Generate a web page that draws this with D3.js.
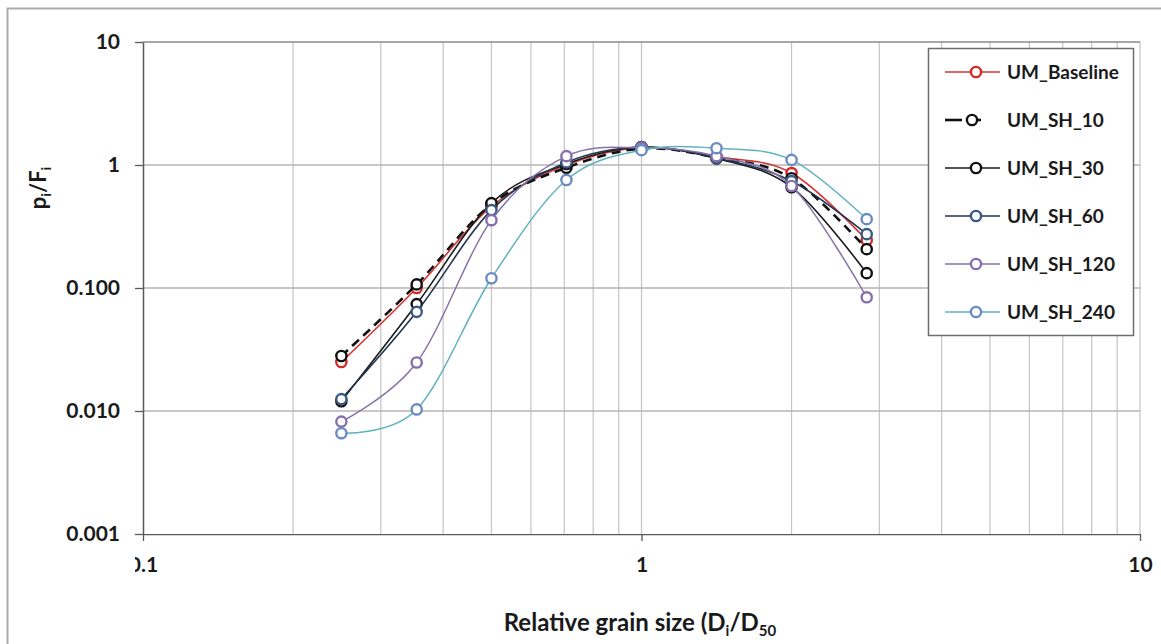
<!DOCTYPE html>
<html>
<head>
<meta charset="utf-8">
<script src="https://cdn.jsdelivr.net/npm/d3@7"></script>
<style>
  html, body { margin: 0; padding: 0; background: #fff; }
  svg { display: block; font-family: Lato, "Open Sans", sans-serif; }
</style>
</head>
<body>
<svg id="chart" width="1161" height="644"></svg>
<script>
// Relative grain size classes (Di/D50), half-phi steps
const grainSize = [0.25, 0.354, 0.5, 0.707, 1, 1.414, 2, 2.83];

// pi/Fi ratios for each run
const umBaseline = [0.025, 0.100, 0.46, 1.00, 1.38, 1.17, 0.86, 0.245];
const umSH10     = [0.028, 0.107, 0.48, 0.95, 1.36, 1.15, 0.78, 0.207];
const umSH30     = [0.012, 0.074, 0.49, 1.02, 1.40, 1.13, 0.66, 0.132];
const umSH60     = [0.0125, 0.064, 0.43, 1.05, 1.40, 1.14, 0.74, 0.274];
const umSH120    = [0.0082, 0.0248, 0.356, 1.18, 1.38, 1.18, 0.675, 0.084];
const umSH240    = [0.0066, 0.0103, 0.12, 0.755, 1.32, 1.37, 1.10, 0.363];

const seriesNames = ["UM_Baseline", "UM_SH_10", "UM_SH_30", "UM_SH_60", "UM_SH_120", "UM_SH_240"];
const seriesValues = [umBaseline, umSH10, umSH30, umSH60, umSH120, umSH240];

const xTickValues = [0.1, 1, 10];
const xTickLabels = ["0.1", "1", "10"];
const yTickValues = [0.001, 0.01, 0.1, 1, 10];
const yTickLabels = ["0.001", "0.010", "0.100", "1", "10"];

// Line / marker styling per series
const styles = [
  { line: "#d63535", marker: "#d42a2a", width: 1.6, dash: null },
  { line: "#111111", marker: "#111111", width: 2.6, dash: "9,6" },
  { line: "#1a1a1a", marker: "#111111", width: 1.6, dash: null },
  { line: "#22354f", marker: "#3b5b82", width: 1.6, dash: null },
  { line: "#8574aa", marker: "#8570ad", width: 1.5, dash: null },
  { line: "#5fb2c0", marker: "#6b8cc2", width: 1.5, dash: null }
];
const markerR = 5.1;
const markerW = 2.4;

const svg = d3.select("#chart");

// Outer frame
svg.append("path")
  .attr("d", "M7.5,644 V8.5 H1161")
  .attr("fill", "none").attr("stroke", "#ababab").attr("stroke-width", 2);

const x = d3.scaleLog().domain([0.1, 10]).range([143, 1140]);
const y = d3.scaleLog().domain([0.001, 10]).range([534, 42]);

// Vertical grid: every integer multiple inside each decade
const xGrid = [];
[0.1, 1].forEach(d => { for (let k = 1; k <= 10; k++) xGrid.push(+(d * k).toFixed(3)); });
const xGridU = Array.from(new Set(xGrid)).filter(v => v > 0.1);

svg.append("g").selectAll("line").data(xGridU).join("line")
  .attr("x1", d => x(d)).attr("x2", d => x(d))
  .attr("y1", y(10)).attr("y2", y(0.001))
  .attr("stroke", "#c4c4c4").attr("stroke-width", 1.2);

svg.append("g").selectAll("line").data(yTickValues.filter(v => v > 0.001)).join("line")
  .attr("x1", x(0.1)).attr("x2", x(10))
  .attr("y1", d => y(d)).attr("y2", d => y(d))
  .attr("stroke", d => d === 10 ? "#8a8a8a" : "#b4b4b4").attr("stroke-width", 1.3);

// Axes
const tickFont = 21;
const yAxis = d3.axisLeft(y).tickValues(yTickValues)
  .tickFormat((d, i) => yTickLabels[i]).tickSize(8).tickSizeOuter(0).tickPadding(15);
const gy = svg.append("g").attr("transform", `translate(${x(0.1)},0)`).call(yAxis);
gy.select(".domain").attr("stroke", "#5a5a5a").attr("stroke-width", 1.5);
gy.selectAll(".tick line").attr("stroke", "#5a5a5a").attr("stroke-width", 1.3);
gy.selectAll(".tick text")
  .attr("font-size", tickFont).attr("font-weight", 700).attr("fill", "#1a1a1a")
  .attr("font-family", "Lato, sans-serif");

const xAxis = d3.axisBottom(x).tickValues(xTickValues)
  .tickFormat((d, i) => xTickLabels[i]).tickSize(7).tickSizeOuter(0).tickPadding(16);
const gx = svg.append("g").attr("transform", `translate(0,${y(0.001)})`).call(xAxis);
gx.select(".domain").attr("stroke", "#5a5a5a").attr("stroke-width", 1.5);
gx.selectAll(".tick line").attr("stroke", "#5a5a5a").attr("stroke-width", 1.3);
gx.selectAll(".tick text")
  .attr("font-size", tickFont).attr("font-weight", 700).attr("fill", "#1a1a1a")
  .attr("font-family", "Lato, sans-serif");

// The first x label sits against the frame and is partly cut
svg.append("clipPath").attr("id", "xlabclip")
  .append("rect").attr("x", 135).attr("y", 0).attr("width", 1100).attr("height", 644);
gx.attr("clip-path", "url(#xlabclip)");

// Series curves
const line = d3.line()
  .x(d => x(d[0])).y(d => y(d[1]))
  .curve(d3.curveCardinal.tension(0));

const plot = svg.append("g");
seriesValues.forEach((vals, i) => {
  const pts = grainSize.map((g, j) => [g, vals[j]]);
  const st = styles[i];
  plot.append("path").datum(pts)
    .attr("d", line)
    .attr("fill", "none")
    .attr("stroke", st.line)
    .attr("stroke-width", st.width)
    .attr("stroke-dasharray", st.dash);
  plot.append("g").selectAll("circle").data(pts).join("circle")
    .attr("cx", d => x(d[0])).attr("cy", d => y(d[1])).attr("r", markerR)
    .attr("fill", "#fff").attr("stroke", st.marker).attr("stroke-width", markerW);
});

// Axis titles
const yTitle = svg.append("text")
  .attr("transform", "translate(46,188) rotate(-90)")
  .attr("text-anchor", "middle")
  .attr("font-size", 22).attr("font-weight", 700).attr("fill", "#1a1a1a");
yTitle.append("tspan").text("p");
yTitle.append("tspan").attr("font-size", 14).attr("dy", 5).text("i");
yTitle.append("tspan").attr("dy", -5).text("/F");
yTitle.append("tspan").attr("font-size", 14).attr("dy", 5).text("i");

const xTitle = svg.append("text")
  .attr("x", 640).attr("y", 631)
  .attr("text-anchor", "middle")
  .attr("font-size", 24).attr("font-weight", 700).attr("fill", "#1a1a1a");
xTitle.append("tspan").text("Relative grain size (D");
xTitle.append("tspan").attr("font-size", 15).attr("dy", 5).text("i");
xTitle.append("tspan").attr("dy", -5).text("/D");
xTitle.append("tspan").attr("font-size", 15).attr("dy", 5).text("50");

// Legend
const legend = svg.append("g");
legend.append("rect")
  .attr("x", 928.5).attr("y", 48.5).attr("width", 205).attr("height", 287)
  .attr("fill", "#fff").attr("stroke", "#6e6e6e").attr("stroke-width", 1.5);

const rowY = d3.scalePoint().domain(seriesNames).range([72, 312]);
seriesNames.forEach((name, i) => {
  const st = styles[i];
  const ry = rowY(name);
  const g = legend.append("g");
  if (st.dash) {
    g.append("line").attr("x1", 945).attr("x2", 962).attr("y1", ry).attr("y2", ry)
      .attr("stroke", st.line).attr("stroke-width", st.width);
    g.append("line").attr("x1", 976).attr("x2", 981).attr("y1", ry).attr("y2", ry)
      .attr("stroke", st.line).attr("stroke-width", st.width);
    g.append("circle").attr("cx", 972).attr("cy", ry).attr("r", markerR)
      .attr("fill", "#fff").attr("stroke", st.marker).attr("stroke-width", markerW);
  } else {
    g.append("line").attr("x1", 945).attr("x2", 1000).attr("y1", ry).attr("y2", ry)
      .attr("stroke", st.line).attr("stroke-width", st.width);
    g.append("circle").attr("cx", 976).attr("cy", ry).attr("r", markerR)
      .attr("fill", "#fff").attr("stroke", st.marker).attr("stroke-width", markerW);
  }
  g.append("text").attr("x", 1007).attr("y", ry).attr("dy", "0.35em")
    .attr("font-size", 19).attr("font-weight", 700).attr("fill", "#1a1a1a")
    .text(name);
});
</script>
</body>
</html>
